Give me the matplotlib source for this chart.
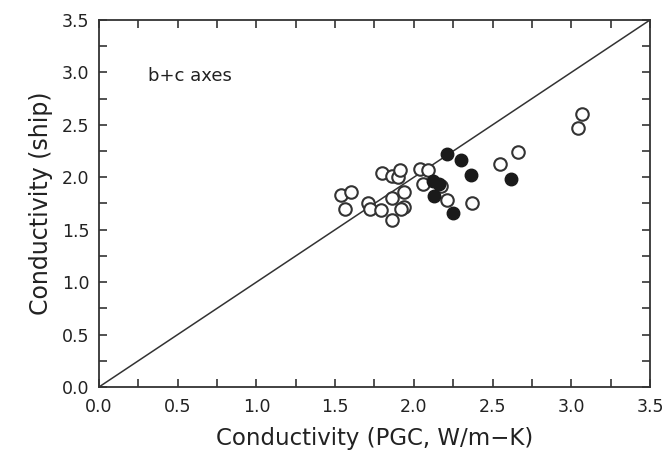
import matplotlib
matplotlib.use("Agg")
import matplotlib.pyplot as plt
from matplotlib.ticker import MultipleLocator

# PGC vs ship conductivity, b+c axes
open_x = [1.54, 1.60, 1.56, 1.71, 1.72, 1.79, 1.80, 1.86, 1.90, 1.91,
          1.86, 1.94, 1.94, 1.92, 1.86, 2.04, 2.09, 2.06, 2.17, 2.21,
          2.37, 2.55, 2.66, 3.04, 3.07]
open_y = [1.83, 1.86, 1.70, 1.75, 1.70, 1.69, 2.04, 2.01, 2.00, 2.07,
          1.80, 1.86, 1.72, 1.70, 1.59, 2.08, 2.07, 1.94, 1.92, 1.78,
          1.75, 2.13, 2.24, 2.47, 2.60]

filled_x = [2.21, 2.30, 2.36, 2.12, 2.16, 2.13, 2.25, 2.62]
filled_y = [2.22, 2.16, 2.02, 1.96, 1.94, 1.82, 1.66, 1.98]

line_x = [0.0, 3.5]
line_y = [0.0, 3.5]

fig = plt.figure(figsize=(6.71, 4.54), dpi=100)
ax = fig.add_axes([0.1475, 0.1476, 0.8212, 0.8084])

ax.plot(line_x, line_y, color="#333333", lw=1.1)
ax.plot(open_x, open_y, "o", ms=9, mfc="white", mec="#333333", mew=1.5, ls="none")
ax.plot(filled_x, filled_y, "o", ms=9, mfc="#1a1a1a", mec="#1a1a1a", mew=1.0, ls="none")

ax.text(0.31, 2.97, "b+c axes", fontsize=13, va="center", color="#222222")

ax.set_xlim(0, 3.5)
ax.set_ylim(0, 3.5)
ax.xaxis.set_major_locator(MultipleLocator(0.5))
ax.yaxis.set_major_locator(MultipleLocator(0.5))
ax.xaxis.set_minor_locator(MultipleLocator(0.25))
ax.yaxis.set_minor_locator(MultipleLocator(0.25))
ax.xaxis.set_major_formatter(plt.FormatStrFormatter("%.1f"))
ax.yaxis.set_major_formatter(plt.FormatStrFormatter("%.1f"))
ax.tick_params(which="both", direction="in", top=True, right=True,
               length=6, width=1.2, color="#333333")
ax.tick_params(axis="x", pad=8)
ax.tick_params(axis="y", pad=7)
ax.tick_params(labelsize=12.5, labelcolor="#222222")
for s in ax.spines.values():
    s.set_linewidth(1.3)
    s.set_color("#333333")

ax.set_xlabel("Conductivity (PGC, W/m\u2212K)", fontsize=16.5, color="#222222", labelpad=8)
ax.set_ylabel("Conductivity (ship)", fontsize=17, color="#222222", labelpad=6)

fig.savefig("out.png", dpi=100)
